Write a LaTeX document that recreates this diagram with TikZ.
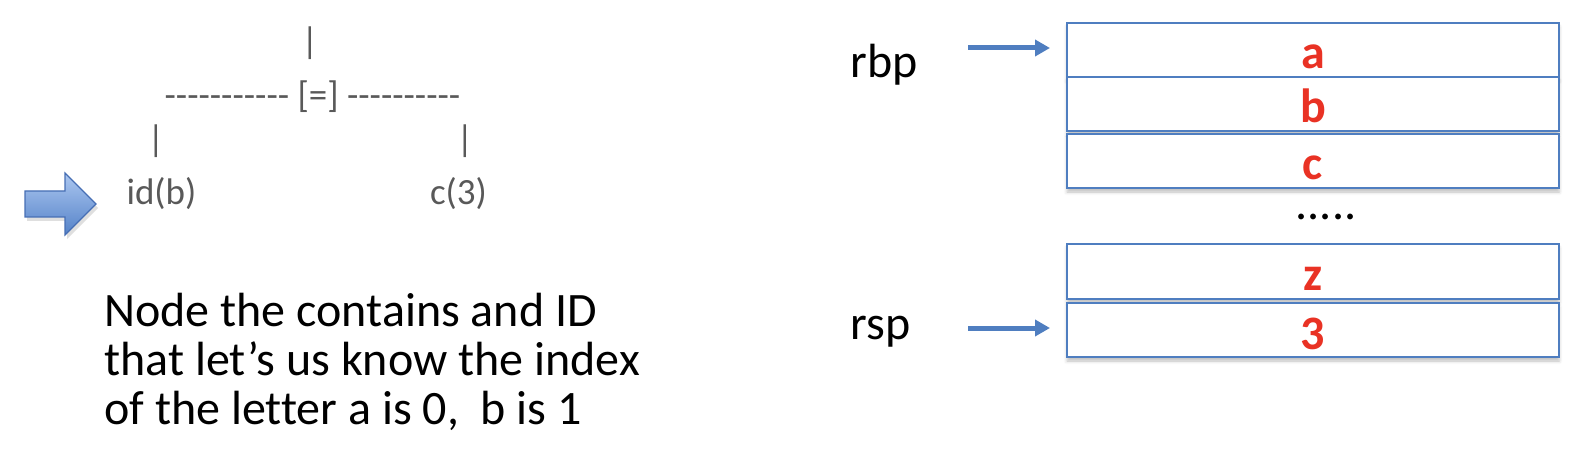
\documentclass[tikz,border=0pt]{standalone}
\usepackage{fontspec}
\newfontfamily\plainfont{Carlito}[Ligatures=NoCommon]
\usetikzlibrary{arrows.meta,shadows,shadows.blur}
\definecolor{boxblue}{RGB}{79,126,192}
\definecolor{lettred}{RGB}{233,50,36}
\definecolor{treegray}{RGB}{89,89,89}
\definecolor{arrtop}{RGB}{172,199,240}
\definecolor{arrbot}{RGB}{84,130,200}
\definecolor{arredge}{RGB}{70,110,180}
\tikzset{
  cell/.style={draw=boxblue, line width=1pt, fill=white, minimum width=246pt,
    inner sep=0pt, text height=23pt, text depth=4pt, font=\plainfont\fontsize{24}{28}\selectfont\bfseries,
    text=lettred, blur shadow={shadow xshift=0pt, shadow yshift=-2pt, shadow blur steps=4, shadow opacity=25}},
  treetxt/.style={text=treegray, font=\plainfont\fontsize{18.5}{22}\selectfont, inner sep=0pt},
  regtxt/.style={text=black, font=\plainfont\fontsize{24}{24.5}\selectfont, inner sep=0pt},
  ptr/.style={draw=boxblue, line width=2.5pt, -{Triangle[length=7.5pt,width=8pt]}}
}
\begin{document}
\begin{tikzpicture}[x=0.5pt,y=-0.5pt]
\useasboundingbox (0,0) rectangle (1588,470);
% tree
\node[treetxt] (top) at (310,43) {|};
\node[treetxt] (eq) at (312.5,97) {----------- [=] ----------};
\node[treetxt] (lbar) at (156,141) {|};
\node[treetxt] (rbar) at (465,141) {|};
\node[treetxt] (idb) at (161.5,194) {id(b)};
\node[treetxt] (c3) at (458.5,194) {c(3)};
% block arrow
\path[top color=arrtop, bottom color=arrbot, draw=arredge, line width=0.6pt,
  drop shadow={shadow xshift=1pt, shadow yshift=-2pt, opacity=0.25}]
  (25,191) -- (65,191) -- (65,173) -- (96,204) -- (65,235) -- (65,217) -- (25,217) -- cycle;
% explanation
\node[regtxt, anchor=base west, align=left] (expl) at (104,424)
  {Node the contains and ID\\that let’s us know the index\\of the letter a is 0,\ \ b is 1};
% stack
\node[cell, anchor=north west, minimum height=27pt] (a) at (1066,22) {a};
\node[cell, anchor=north west, minimum height=27pt] (b) at (1066,76) {b};
\node[cell, anchor=north west, minimum height=26.5pt] (c) at (1066,133) {c};
\node[regtxt, anchor=base, text height=4pt] (dots) at (1326,220) {.....};
\node[cell, anchor=north west, minimum height=27.5pt] (z) at (1066,243) {z};
\node[cell, anchor=north west, minimum height=26pt] (n3) at (1066,302) {3};
% registers
\node[regtxt, anchor=base west] (rbp) at (850,78) {rbp};
\node[regtxt, anchor=base west] (rsp) at (850,339) {rsp};
\coordinate (rbpS) at (968,48);
\coordinate (rspS) at (968,328);
\draw[ptr, shorten >=8pt] (rbpS) -- (a.west |- rbpS);
\draw[ptr, shorten >=8pt] (rspS) -- (n3.west |- rspS);
\end{tikzpicture}
\end{document}
